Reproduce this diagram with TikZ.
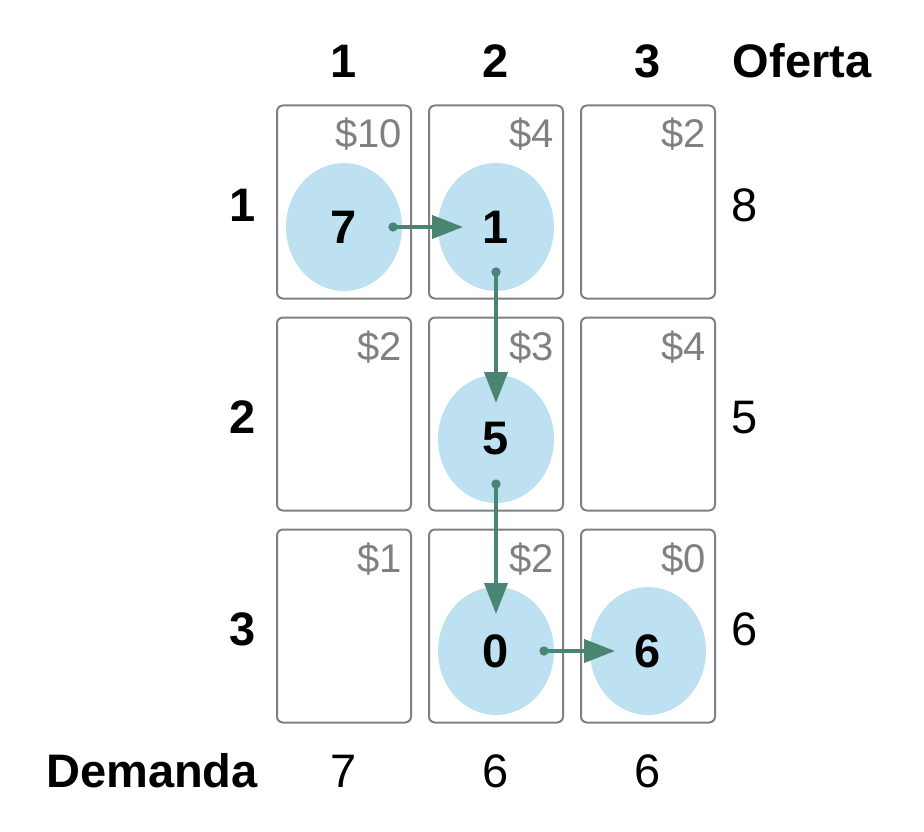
\documentclass[tikz,border=0pt]{standalone}
\usepackage{fontspec}
\setmainfont{Liberation Sans}
\usetikzlibrary{arrows.meta,shapes.geometric}
\definecolor{cellline}{gray}{0.5}
\definecolor{costcol}{gray}{0.5}
\definecolor{qfill}{RGB}{189,225,240}
\definecolor{flowcol}{RGB}{74,133,116}
\tikzset{
  cell/.style={draw=cellline,line width=2pt,rounded corners=6pt,minimum width=134pt,minimum height=193pt,inner sep=0pt},
  cost/.style={font=\fontsize{40}{44}\selectfont,text=costcol,anchor=base east,inner sep=0pt},
  qty/.style={ellipse,fill=qfill,minimum width=116pt,minimum height=128pt,inner sep=0pt,font=\fontsize{47}{50}\selectfont\bfseries},
  head/.style={font=\fontsize{47}{50}\selectfont\bfseries,anchor=base,inner sep=0pt},
  total/.style={font=\fontsize{47}{50}\selectfont,anchor=base,inner sep=0pt},
  flow/.style={draw=flowcol,line width=4pt,{Circle[length=9pt]}-{Triangle[length=31pt,width=23pt]}},
}
\begin{document}
\begin{tikzpicture}[x=1pt,y=-1pt]
  \useasboundingbox (0,0) rectangle (924,832);
  % column and row headers
  \node[head] (h1) at (344,78) {1};
  \node[head] (h2) at (496,78) {2};
  \node[head] (h3) at (648,78) {3};
  \node[head] (hof) at (802,78) {Oferta};
  \node[head] (r1) at (243,221) {1};
  \node[head] (r2) at (243,433) {2};
  \node[head] (r3) at (243,645) {3};
  \node[head] (hdem) at (152,787) {Demanda};
  % cells
  \node[cell] (c11) at (344,202) {};
  \node[cell] (c12) at (496,202) {};
  \node[cell] (c13) at (648,202) {};
  \node[cell] (c21) at (344,414) {};
  \node[cell] (c22) at (496,414) {};
  \node[cell] (c23) at (648,414) {};
  \node[cell] (c31) at (344,626) {};
  \node[cell] (c32) at (496,626) {};
  \node[cell] (c33) at (648,626) {};
  % costs
  \node[cost] (k11) at (402,148) {\$10};
  \node[cost] (k12) at (554,148) {\$4};
  \node[cost] (k13) at (706,148) {\$2};
  \node[cost] (k21) at (402,360) {\$2};
  \node[cost] (k22) at (554,360) {\$3};
  \node[cost] (k23) at (706,360) {\$4};
  \node[cost] (k31) at (402,572) {\$1};
  \node[cost] (k32) at (554,572) {\$2};
  \node[cost] (k33) at (706,572) {\$0};
  % allocations
  \node[qty] (q11) at (344,227) {7};
  \node[qty] (q12) at (496,227) {1};
  \node[qty] (q22) at (496,439) {5};
  \node[qty] (q32) at (496,651) {0};
  \node[qty] (q33) at (648,651) {6};
  % supply and demand
  \node[total] (s1) at (745,221) {8};
  \node[total] (s2) at (745,433) {5};
  \node[total] (s3) at (745,645) {6};
  \node[total] (d1) at (344,787) {7};
  \node[total] (d2) at (496,787) {6};
  \node[total] (d3) at (648,787) {6};
  % cycle
  \draw[flow] ([xshift=44.5pt]q11.center) -- ([xshift=-33pt]q12.center);
  \draw[flow] ([yshift=-40.5pt]q12.center) -- ([yshift=36pt]q22.center);
  \draw[flow] ([yshift=-40.5pt]q22.center) -- ([yshift=37pt]q32.center);
  \draw[flow] ([xshift=43.5pt]q32.center) -- ([xshift=-33pt]q33.center);
\end{tikzpicture}
\end{document}
